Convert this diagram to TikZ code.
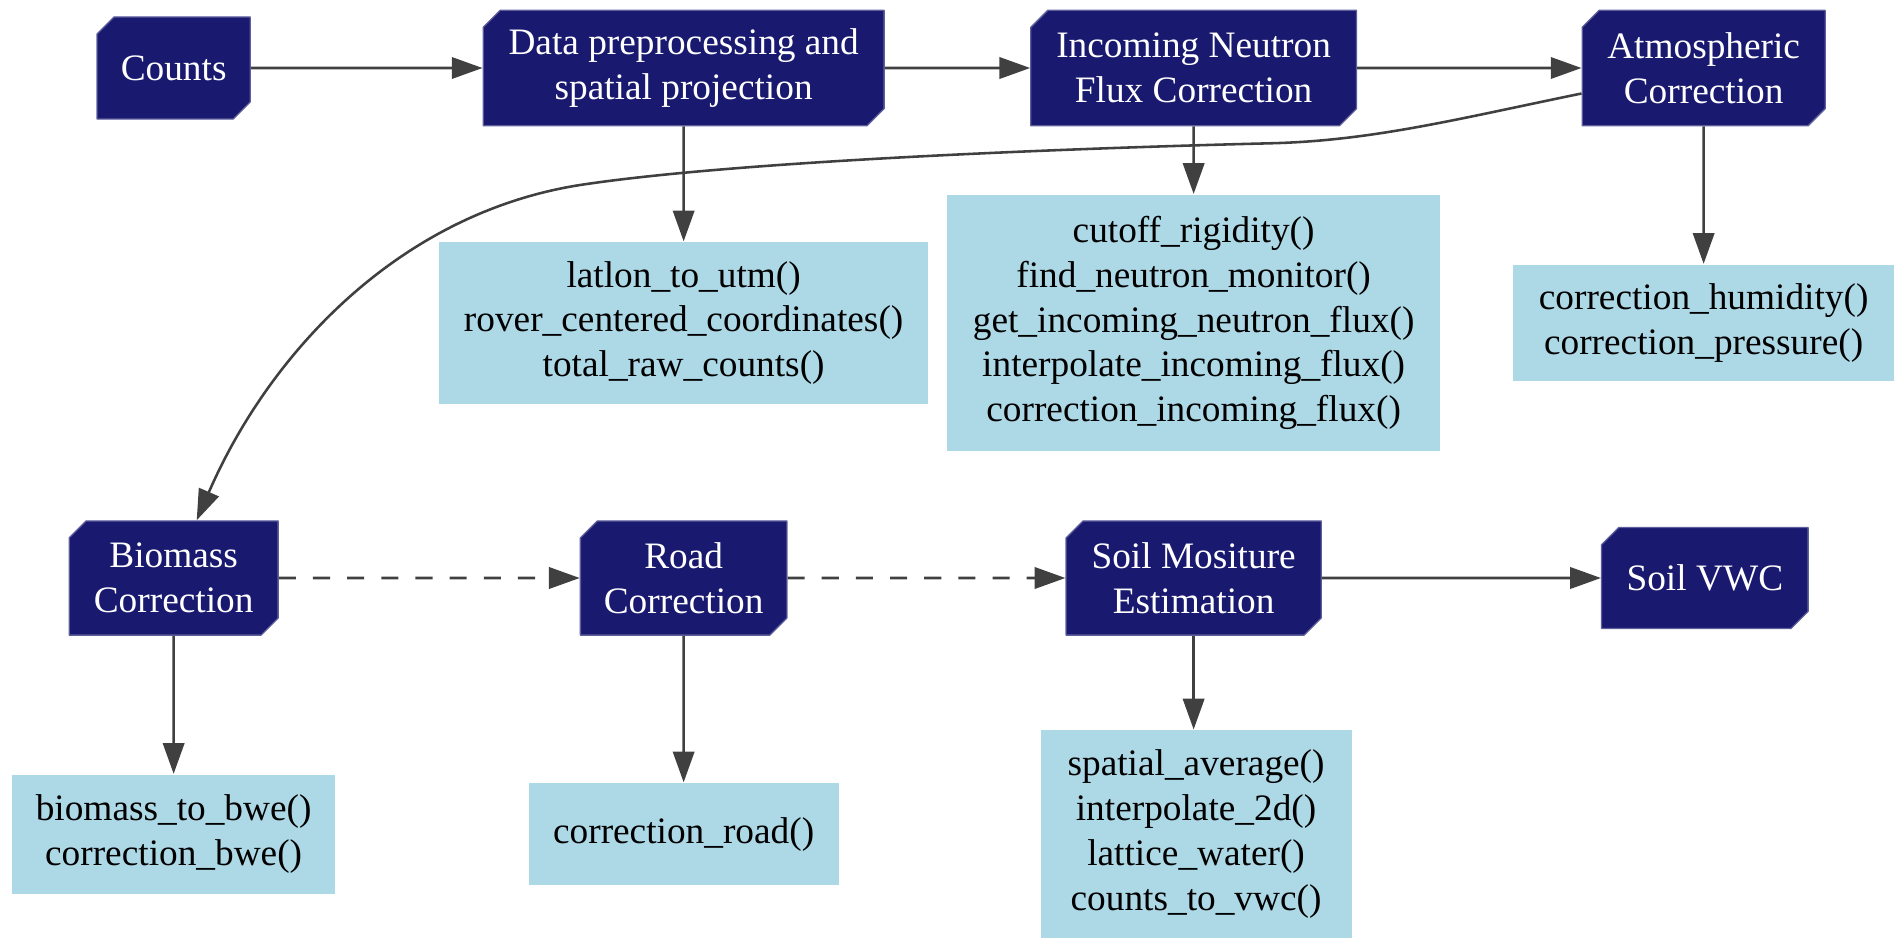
\documentclass[tikz,border=0pt]{standalone}
\usepackage{fontspec}
\setmainfont{Liberation Serif}
\usetikzlibrary{arrows.meta,shapes.misc,calc}
\definecolor{stageblue}{HTML}{191970}
\definecolor{funcblue}{HTML}{ADD8E6}
\definecolor{edgegray}{HTML}{404040}
\tikzset{
  stage/.style={chamfered rectangle, chamfered rectangle corners={north west,south east},
    chamfered rectangle xsep=0.07cm, chamfered rectangle ysep=0.07cm,
    fill=stageblue, draw=stageblue!70!white, line width=0.3pt, text=white, align=center, inner sep=0pt},
  funcs/.style={rectangle, fill=funcblue, align=center, inner sep=0pt},
  flow/.style={->, draw=edgegray, line width=0.6pt},
}
\begin{document}
\begin{tikzpicture}[font=\fontsize{8.74}{10.5}\selectfont, line join=round, >={Triangle[length=7.2pt,width=5pt]}, x=0.01cm, y=-0.01cm]
\useasboundingbox (0,0) rectangle (1568,781);
% processing stages
\node[stage, minimum width=1.26cm, minimum height=0.84cm] (counts) at (143,56) {Counts};
\node[stage, minimum width=3.30cm, minimum height=0.95cm] (prep) at (563,56) {Data preprocessing and\\spatial projection};
\node[stage, minimum width=2.68cm, minimum height=0.95cm] (flux) at (983,56) {Incoming Neutron\\Flux Correction};
\node[stage, minimum width=2.00cm, minimum height=0.95cm] (atm) at (1403,56) {Atmospheric\\Correction};
\node[stage, minimum width=1.72cm, minimum height=0.94cm] (bio) at (143,476) {Biomass\\Correction};
\node[stage, minimum width=1.70cm, minimum height=0.94cm] (road) at (563,476) {Road\\Correction};
\node[stage, minimum width=2.10cm, minimum height=0.94cm] (soil) at (983,476) {Soil Mositure\\Estimation};
\node[stage, minimum width=1.70cm, minimum height=0.83cm] (vwc) at (1404,476) {Soil VWC};
% functions
\node[funcs, minimum width=4.02cm, minimum height=1.33cm] (fprep) at (563,266) {latlon\_to\_utm()\\rover\_centered\_coordinates()\\total\_raw\_counts()};
\node[funcs, minimum width=4.06cm, minimum height=2.11cm] (fflux) at (983,266) {cutoff\_rigidity()\\find\_neutron\_monitor()\\get\_incoming\_neutron\_flux()\\interpolate\_incoming\_flux()\\correction\_incoming\_flux()};
\node[funcs, minimum width=3.13cm, minimum height=0.96cm] (fatm) at (1403,266) {correction\_humidity()\\correction\_pressure()};
\node[funcs, minimum width=2.66cm, minimum height=0.98cm] (fbio) at (143,687) {biomass\_to\_bwe()\\correction\_bwe()};
\node[funcs, minimum width=2.55cm, minimum height=0.84cm] (froad) at (563,687) {correction\_road()};
\node[funcs, minimum width=2.56cm, minimum height=1.71cm] (fsoil) at (985,687) {spatial\_average()\\interpolate\_2d()\\lattice\_water()\\counts\_to\_vwc()};
% connectors
\foreach \a/\b in {counts/prep,prep/flux,flux/atm,soil/vwc}{\draw[flow] (\a) -- (\b);}
\foreach \a/\b in {bio/road,road/soil}{\draw[flow, dash pattern=on 4pt off 4pt] (\a) -- (\b);}
\foreach \a/\b in {prep/fprep,flux/fflux,atm/fatm,bio/fbio,road/froad}{\draw[flow] (\a) -- (\b);}
\draw[flow] (soil.south) -- (fsoil.north -| soil.south);
\draw[flow] ($(atm.west)+(0,21)$) .. controls (1200,98) and (1130,116) .. (1046,118)
  .. controls (846,123) and (600,134) .. (480,152)
  .. controls (330,174.5) and (222,290) .. ($(bio.north)+(19,0)$);
\end{tikzpicture}
\end{document}
